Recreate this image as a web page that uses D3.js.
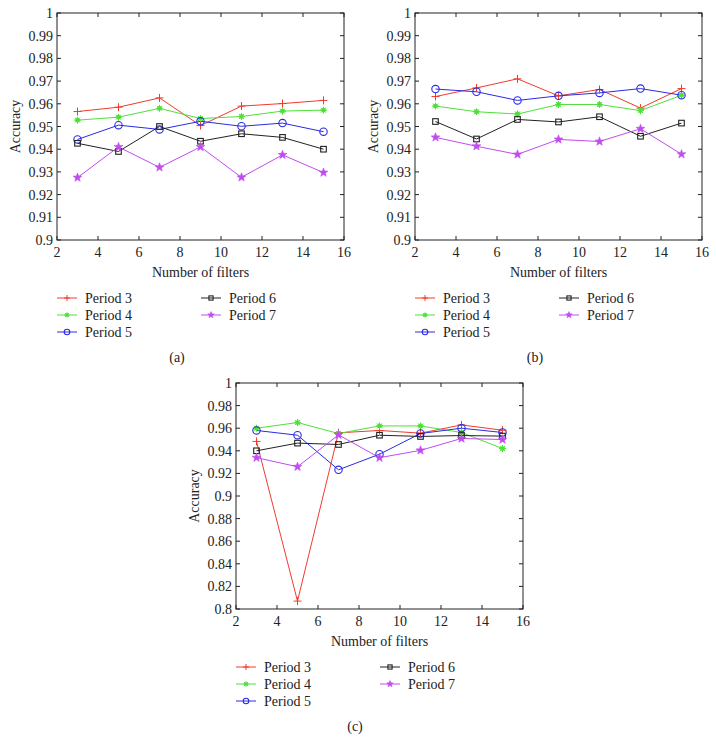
<!DOCTYPE html>
<html>
<head>
<meta charset="utf-8">
<script src="https://cdn.jsdelivr.net/npm/d3@7"></script>
<style>
  body { margin: 0; background: #fff; }
</style>
</head>
<body>
<div id="visualization"></div>
<script>
// x values (number of filters)
const filters = [3, 5, 7, 9, 11, 13, 15];
const seriesNames = ['Period 3', 'Period 4', 'Period 5', 'Period 6', 'Period 7'];
const seriesColors = ['#f23a2c', '#4fe03a', '#2a2ae6', '#222222', '#c04cf0'];
const seriesMarkers = ['plus', 'asterisk', 'circle', 'square', 'star'];

// panel (a)
const accA = [
  [0.9566, 0.9585, 0.9626, 0.9504, 0.9590, 0.9601, 0.9615],
  [0.9528, 0.9541, 0.9580, 0.9535, 0.9544, 0.9568, 0.9572],
  [0.9443, 0.9506, 0.9487, 0.9523, 0.9501, 0.9515, 0.9477],
  [0.9426, 0.9390, 0.9500, 0.9435, 0.9468, 0.9452, 0.9400],
  [0.9275, 0.9410, 0.9320, 0.9410, 0.9276, 0.9375, 0.9297]
];
// panel (b)
const accB = [
  [0.9632, 0.9670, 0.9710, 0.9635, 0.9663, 0.9581, 0.9667],
  [0.9590, 0.9565, 0.9555, 0.9597, 0.9597, 0.9570, 0.9638],
  [0.9665, 0.9653, 0.9615, 0.9635, 0.9648, 0.9667, 0.9638],
  [0.9522, 0.9445, 0.9531, 0.9520, 0.9543, 0.9457, 0.9515],
  [0.9452, 0.9413, 0.9377, 0.9443, 0.9434, 0.9490, 0.9378]
];
// panel (c)
const accC = [
  [0.9483, 0.8070, 0.9559, 0.9580, 0.9556, 0.9629, 0.9582],
  [0.9600, 0.9650, 0.9553, 0.9620, 0.9620, 0.9562, 0.9420],
  [0.9580, 0.9538, 0.9232, 0.9370, 0.9553, 0.9600, 0.9562],
  [0.9400, 0.9468, 0.9456, 0.9538, 0.9527, 0.9535, 0.9530],
  [0.9339, 0.9259, 0.9541, 0.9339, 0.9404, 0.9509, 0.9500]
];

const xTicks = [2, 4, 6, 8, 10, 12, 14, 16];
const yTicksAB = [0.9, 0.91, 0.92, 0.93, 0.94, 0.95, 0.96, 0.97, 0.98, 0.99, 1];
const yTicksC = [0.8, 0.82, 0.84, 0.86, 0.88, 0.9, 0.92, 0.94, 0.96, 0.98, 1];

const fontSize = 14;

const svg = d3.select('#visualization')
  .append('svg')
  .attr('width', 716)
  .attr('height', 753)
  .attr('font-family', '"Liberation Serif", "DejaVu Serif", serif')
  .attr('fill', '#222');

const drawMarker = (g, type, x, y, color, k = 1) => {
  if (type === 'plus') {
    const r = 4 * k;
    g.append('path').attr('d', `M${x - r},${y}H${x + r}M${x},${y - r}V${y + r}`)
      .attr('stroke', color).attr('stroke-width', 1).attr('fill', 'none');
  } else if (type === 'asterisk') {
    const r = 3.5 * k, d = 2.5 * k;
    g.append('circle').attr('cx', x).attr('cy', y).attr('r', 2.4 * k).attr('fill', color);
    g.append('path').attr('d', `M${x - r},${y}H${x + r}M${x},${y - r}V${y + r}M${x - d},${y - d}L${x + d},${y + d}M${x - d},${y + d}L${x + d},${y - d}`)
      .attr('stroke', color).attr('stroke-width', 1);
  } else if (type === 'circle') {
    g.append('circle').attr('cx', x).attr('cy', y).attr('r', 3.7 * k)
      .attr('fill', 'none').attr('stroke', color).attr('stroke-width', 1.1);
  } else if (type === 'square') {
    const h = 2.8 * k;
    g.append('rect').attr('x', x - h).attr('y', y - h).attr('width', 2 * h).attr('height', 2 * h)
      .attr('fill', 'none').attr('stroke', color).attr('stroke-width', 1.1);
  } else if (type === 'star') {
    const pts = d3.range(10).map(i => {
      const r = (i % 2 === 0 ? 4.6 : 1.9) * k;
      const a = -Math.PI / 2 + i * Math.PI / 5;
      return [x + r * Math.cos(a), y + r * Math.sin(a)];
    });
    g.append('polygon').attr('points', pts.map(p => p.join(',')).join(' '))
      .attr('fill', color).attr('stroke', color).attr('stroke-width', 0.6);
  }
};

const drawPanel = (p) => {
  const g = svg.append('g');
  const x = d3.scaleLinear().domain([2, 16]).range([p.left, p.right]);
  const y = d3.scaleLinear().domain(p.yDomain).range([p.bottom, p.top]);
  const tl = 4;

  // frame
  g.append('rect')
    .attr('x', p.left).attr('y', p.top)
    .attr('width', p.right - p.left).attr('height', p.bottom - p.top)
    .attr('fill', 'none').attr('stroke', '#222').attr('stroke-width', 1);

  // inward ticks on all four sides
  xTicks.forEach(t => {
    g.append('line').attr('x1', x(t)).attr('x2', x(t)).attr('y1', p.bottom).attr('y2', p.bottom - tl).attr('stroke', '#222');
    g.append('line').attr('x1', x(t)).attr('x2', x(t)).attr('y1', p.top).attr('y2', p.top + tl).attr('stroke', '#222');
    g.append('text').attr('x', x(t)).attr('y', p.bottom + 17)
      .attr('text-anchor', 'middle').attr('font-size', fontSize).text(t);
  });
  p.yTicks.forEach(t => {
    g.append('line').attr('x1', p.left).attr('x2', p.left + tl).attr('y1', y(t)).attr('y2', y(t)).attr('stroke', '#222');
    g.append('line').attr('x1', p.right).attr('x2', p.right - tl).attr('y1', y(t)).attr('y2', y(t)).attr('stroke', '#222');
    g.append('text').attr('x', p.left - 4).attr('y', y(t) + 5)
      .attr('text-anchor', 'end').attr('font-size', fontSize).text(d3.format('~g')(t));
  });

  // axis titles
  g.append('text').attr('x', (p.left + p.right) / 2).attr('y', p.bottom + 37)
    .attr('text-anchor', 'middle').attr('font-size', fontSize).text('Number of filters');
  g.append('text')
    .attr('transform', `translate(${p.left - 37},${(p.top + p.bottom) / 2}) rotate(-90)`)
    .attr('text-anchor', 'middle').attr('font-size', fontSize).text('Accuracy');

  // series
  const line = d3.line().x((d, i) => x(filters[i])).y(d => y(d));
  p.data.forEach((vals, s) => {
    g.append('path').datum(vals).attr('d', line)
      .attr('fill', 'none').attr('stroke', seriesColors[s]).attr('stroke-width', 1);
  });
  p.data.forEach((vals, s) => {
    vals.forEach((v, i) => drawMarker(g, seriesMarkers[s], x(filters[i]), y(v), seriesColors[s]));
  });

  // legend: two columns
  seriesNames.forEach((name, s) => {
    const col = s < 3 ? 0 : 1;
    const row = s < 3 ? s : s - 3;
    const lx = p.left + (col === 0 ? 0 : p.legendCol2);
    const ly = p.bottom + 58 + row * 17;
    g.append('line').attr('x1', lx).attr('x2', lx + 20).attr('y1', ly).attr('y2', ly)
      .attr('stroke', seriesColors[s]).attr('stroke-width', 1);
    drawMarker(g, seriesMarkers[s], lx + 10, ly, seriesColors[s], 0.75);
    g.append('text').attr('x', lx + 28).attr('y', ly + 5).attr('font-size', fontSize).text(name);
  });

  g.append('text').attr('x', p.labelX).attr('y', p.bottom + 122)
    .attr('text-anchor', 'middle').attr('font-size', fontSize).text(p.label);
};

drawPanel({ left: 57, right: 344, top: 13, bottom: 240, yDomain: [0.9, 1], yTicks: yTicksAB, data: accA, legendCol2: 144, label: '(a)', labelX: 177 });
drawPanel({ left: 415, right: 702, top: 13, bottom: 240, yDomain: [0.9, 1], yTicks: yTicksAB, data: accB, legendCol2: 144, label: '(b)', labelX: 535 });
drawPanel({ left: 236, right: 523, top: 383, bottom: 609, yDomain: [0.8, 1], yTicks: yTicksC, data: accC, legendCol2: 144, label: '(c)', labelX: 355 });
</script>
</body>
</html>
